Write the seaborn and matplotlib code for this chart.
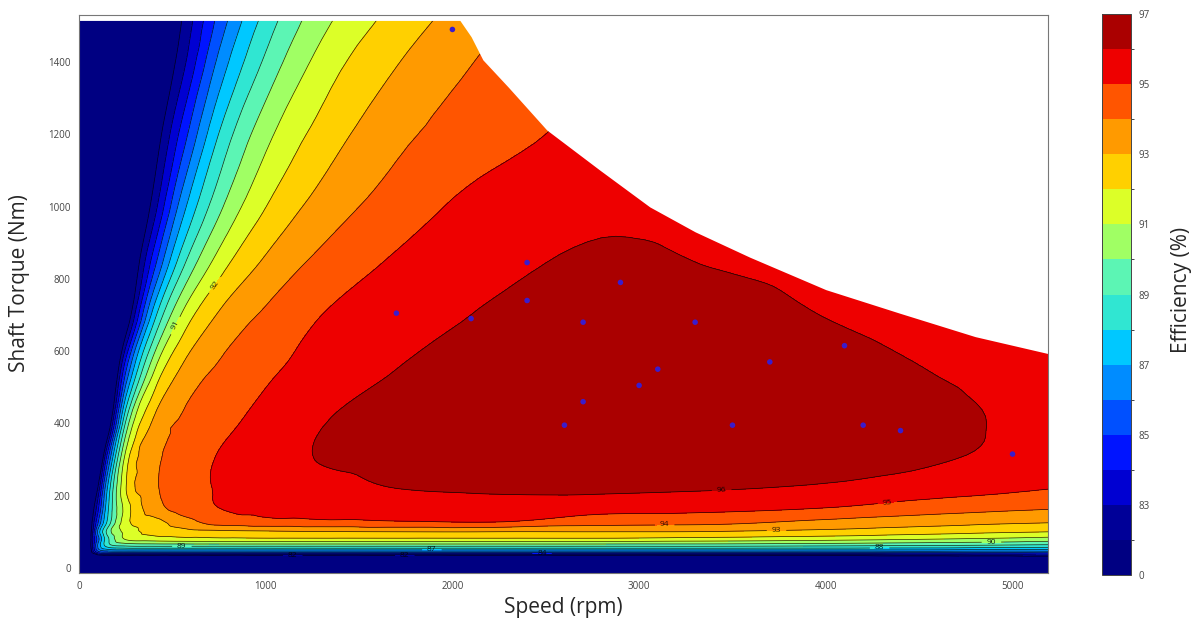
"""
Motor efficiency map (speed vs shaft torque) with measured operating points.
"""

import matplotlib
matplotlib.use("Agg")
import matplotlib.pyplot as plt
import matplotlib.tri as mtri
from matplotlib.colors import ListedColormap, BoundaryNorm
import numpy as np
import seaborn as sns


# Efficiency (%) at speed (rpm) x torque (Nm) nodes
speed_nodes = [0, 60, 100, 150, 250, 400, 550, 750, 1000, 1300, 1700, 2200, 2800, 3400, 4000, 4500, 4900, 5200]
torque_nodes = [-15, 28, 40, 50, 62, 80, 100, 125, 160, 220, 300, 400, 550, 700, 850, 1000, 1200, 1400, 1530]
efficiency = [
    [70, 70, 72, 74, 75, 75, 75, 75, 75, 75, 75, 75, 75, 75, 75, 75, 75, 75],
    [70, 75, 79, 79.5, 79.6, 79.6, 79.6, 79.6, 79.6, 79.6, 79.6, 79.6, 79.6, 79.8, 80.1, 80.4, 80.6, 80.75],
    [72, 80.5, 83.4, 83.9, 84, 84, 84, 84, 84, 84, 84, 84, 84, 84, 84, 84.3, 84.3, 84.5],
    [73, 81.2, 85.5, 86.7, 87, 87, 87, 87, 87, 87, 87, 87, 87, 87, 87, 87, 86.8, 86.8],
    [74, 81.6, 86, 88.4, 89.2, 89.33, 89.33, 89.33, 89.33, 89.33, 89.33, 89.33, 89.33, 89.33, 89.17, 89.0, 88.86, 88.71],
    [74, 81.5, 85.4, 88.6, 91.1, 91.5, 91.65, 91.75, 91.8, 91.8, 91.8, 91.8, 91.8, 91.6, 91.36, 91.08, 90.82, 90.58],
    [74, 81.3, 86.1, 89.2, 91.3, 92.3, 92.6, 92.75, 92.85, 92.95, 93.0, 93.0, 93.0, 92.95, 92.7, 92.4, 92.15, 92.0],
    [74, 81, 84.8, 88.1, 91.6, 92.54, 93.47, 94.35, 94.6, 94.71, 94.83, 94.93, 94.35, 94.2, 93.67, 93.36, 93.13, 93.0],
    [74, 80.4, 83.7, 87.6, 91.4, 93.5, 94.3, 94.95, 95.18, 95.3, 95.33, 95.45, 95.22, 95.13, 94.85, 94.35, 94.1, 93.95],
    [72.1, 78, 82, 86.86, 91.93, 93.79, 94.51, 95.08, 95.32, 95.62, 96.0, 96.15, 96.2, 96.07, 95.85, 95.55, 95.25, 95.02],
    [67.7, 74.3, 78.7, 84.5, 91.41, 93.69, 94.4, 95.07, 95.53, 96.05, 96.35, 96.6, 96.7, 96.65, 96.4, 96.12, 95.85, 95.6],
    [65, 71.1, 75, 80, 89.14, 93.21, 94.13, 94.73, 95.31, 95.97, 96.25, 96.55, 96.75, 96.75, 96.55, 96.25, 95.97, 95.7],
    [64, 71.3, 73.9, 77.1, 84.78, 90.83, 93.11, 94.13, 94.82, 95.37, 96.0, 96.4, 96.6, 96.6, 96.35, 96.02, 95.8, 95.6],
    [63, 72.2, 74, 76.2, 80.66, 87.5, 91.08, 93.11, 94.15, 95.0, 95.51, 96.1, 96.5, 96.35, 95.98, 95.7, 95.6, 95.5],
    [62, 73.6, 74.8, 76.4, 79.5, 84.48, 88.52, 91.39, 93.13, 94.23, 95.11, 95.71, 96.15, 95.95, 95.7, 95.5, 95.4, 95.3],
    [62, 74.2, 75.2, 76.4, 78.8, 82.49, 86.49, 89.73, 91.98, 93.39, 94.46, 95.4, 95.8, 95.7, 95.5, 95.4, 95.3, 95.2],
    [62, 74.3, 75.1, 76.1, 78.1, 81.1, 84.35, 88.04, 90.67, 92.38, 93.74, 94.59, 95.3, 95.5, 95.5, 95.4, 95.3, 95.2],
    [62, 74.4, 75.1, 75.9, 77.6, 80.1, 82.58, 86.27, 89.2, 91.37, 92.94, 94.17, 95.0, 95.4, 95.5, 95.4, 95.3, 95.2],
    [62, 74.8, 75.4, 76.1, 77.6, 79.7, 81.93, 85.24, 88.28, 90.58, 92.3, 93.73, 95.0, 95.5, 95.5, 95.3, 95.2, 95.0],
]

# Maximum torque envelope (above it the map is blank)
limit_speed = [0, 2040, 2100, 2163, 2300, 2505, 2789, 3057, 3300, 3592, 4000, 4395, 4800, 5200]
limit_torque = [1515, 1515, 1470, 1406, 1330, 1212, 1101, 999, 930, 860, 770, 705, 640, 592]

# Measured operating points
point_speed = [2000, 1700, 2100, 2400, 2400, 2900, 2700, 3300, 3100, 3000, 2700, 2600, 3700, 3500, 4100, 4200, 4400, 5000]
point_torque = [1490, 705, 690, 845, 740, 790, 680, 680, 550, 505, 460, 395, 570, 395, 615, 395, 380, 315]

levels = [0, 82, 83, 84, 85, 86, 87, 88, 89, 90, 91, 92, 93, 94, 95, 96, 97]
cbar_ticks = [0, 83, 85, 87, 89, 91, 93, 95, 97]
band_colors = ['#000082', '#000098', '#0000d2', '#0014ff', '#0050ff', '#008cff',
               '#00c8ff', '#30e6d2', '#5cf5b4', '#a0ff64', '#dcff28', '#ffd000',
               '#ff9a00', '#ff5500', '#ee0000', '#aa0000']

# Where the contour labels sit on the reference map (speed, torque)
label_spots = [(728, 783), (530, 667), (551, 58), (1145, 33), (1745, 33), (1890, 50),
               (2480, 40), (3442, 216), (4330, 180), (3137, 113), (3736, 100),
               (4288, 58), (4887, 69)]

X_SPAN, Y_SPAN = 5200.0, 1530.0


def grid_triangulation(xs, ys):
    """
    Split every cell of the (normalised) node grid into two triangles.
    """

    nx, ny = len(xs), len(ys)
    X, Y = np.meshgrid(np.array(xs) / X_SPAN, np.array(ys) / Y_SPAN)
    triangles = []
    for j in range(ny - 1):
        for i in range(nx - 1):
            a = j * nx + i
            triangles.append([a, a + 1, a + nx + 1])
            triangles.append([a, a + nx + 1, a + nx])
    return mtri.Triangulation(X.ravel(), Y.ravel(), triangles)


def main():
    sns.set_style("white")
    plt.rcParams['font.family'] = ['Open Sans', 'DejaVu Sans']

    fig = plt.figure(figsize=(11.95, 6.28), dpi=100)
    ax = fig.add_axes([0.0661, 0.0876, 0.8109, 0.8885])
    ax.set_xlim(0, 5190)
    ax.set_ylim(-14, 1530)

    cmap = ListedColormap(band_colors)
    norm = BoundaryNorm(levels, cmap.N)

    # Smooth the node table with matplotlib's own cubic refiner
    tri = grid_triangulation(speed_nodes, torque_nodes)
    z = np.array(efficiency, dtype=float).ravel()
    interp = mtri.CubicTriInterpolator(tri, z, kind='geom')
    tri_f, z_f = mtri.UniformTriRefiner(tri).refine_field(z, triinterpolator=interp, subdiv=3)
    tri_f = mtri.Triangulation(tri_f.x * X_SPAN, tri_f.y * Y_SPAN, tri_f.triangles)
    z_f = np.clip(z_f, 0, 96.99)

    # Filled map and contour lines
    cf = ax.tricontourf(tri_f, z_f, levels=levels, cmap=cmap, norm=norm)
    cs = ax.tricontour(tri_f, z_f, levels=levels[1:-1],
                       colors='k', linewidths=0.5, alpha=0.85)
    ax.clabel(cs, fontsize=6, fmt='%d', inline=True, colors='k', manual=label_spots)

    # Blank out the region beyond the torque envelope
    ax.fill_between(limit_speed, limit_torque, 1700, color='white', lw=0, zorder=2.2)

    # Operating points
    sns.scatterplot(x=point_speed, y=point_torque, ax=ax, color='#3a1ccc',
                    s=16, edgecolor='none', zorder=3, legend=False)

    ax.set_xlim(0, 5190)
    ax.set_ylim(-14, 1530)
    ax.set_xticks([0, 1000, 2000, 3000, 4000, 5000])
    ax.set_yticks([0, 200, 400, 600, 800, 1000, 1200, 1400])
    ax.tick_params(direction='in', top=True, right=True, length=4, width=0.6,
                   color='#555555', labelsize=7, labelcolor='#444444', pad=6)
    for sp in ax.spines.values():
        sp.set_color('#777777')
        sp.set_linewidth(0.8)

    # Colorbar
    cax = fig.add_axes([0.9222, 0.0844, 0.0243, 0.8933])
    cb = fig.colorbar(cf, cax=cax, ticks=cbar_ticks)
    cb.outline.set_linewidth(0.7)
    cb.outline.set_edgecolor('#444444')
    cax.tick_params(direction='in', length=3, width=0.6, color='#555555',
                    labelsize=7, labelcolor='#444444', pad=5)

    # Axis titles
    fig.text(563 / 1195, 1 - 607 / 628, 'Speed (rpm)', ha='center', va='center', fontsize=15)
    fig.text(20 / 1195, 1 - 283 / 628, 'Shaft Torque (Nm)', ha='center', va='center',
             rotation=90, fontsize=15)
    fig.text(1182 / 1195, 1 - 290 / 628, 'Efficiency (%)', ha='center', va='center',
             rotation=90, fontsize=15)

    fig.savefig('out.png', dpi=100)


if __name__ == "__main__":
    main()
